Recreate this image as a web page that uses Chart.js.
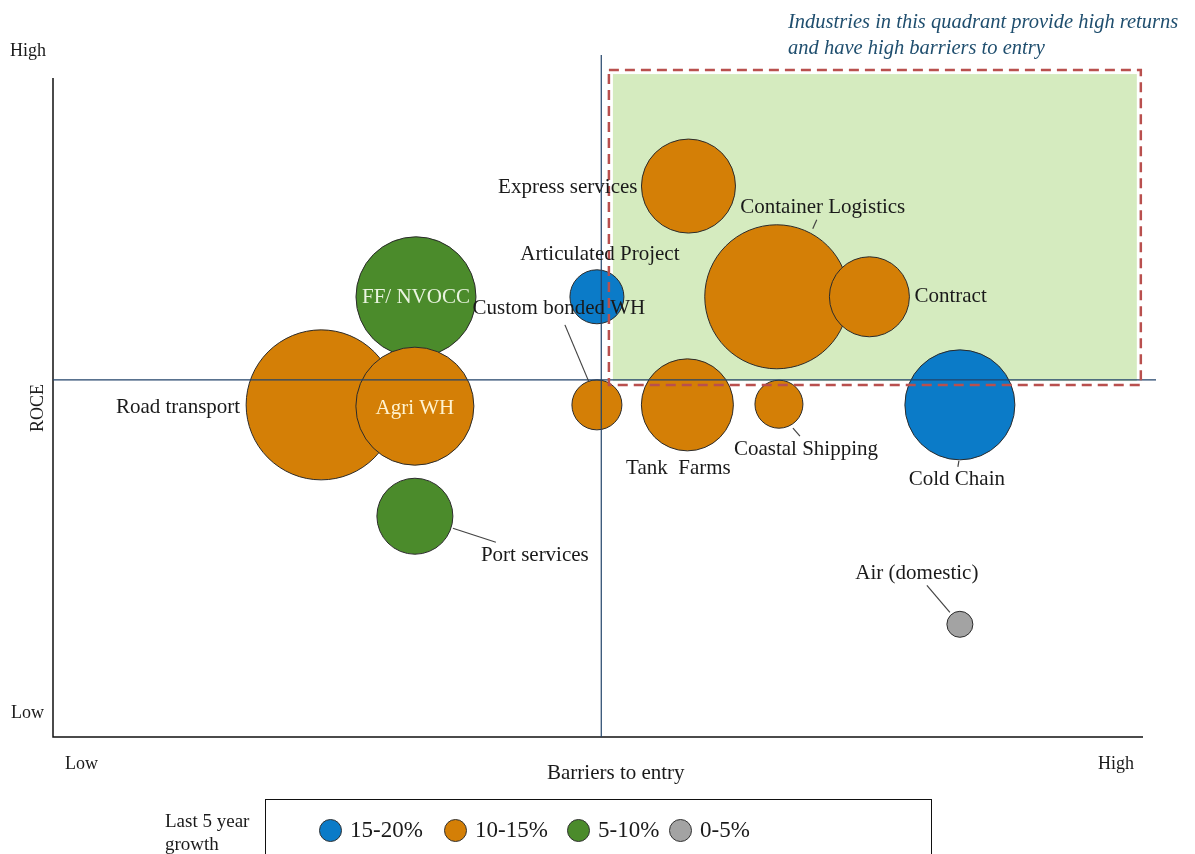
<!DOCTYPE html>
<html><head><meta charset="utf-8">
<script src="https://cdn.jsdelivr.net/npm/chart.js@4.4.0/dist/chart.umd.min.js"></script>
<style>
html,body{margin:0;padding:0;background:#fff;}
#wrap{position:relative;width:1195px;height:854px;overflow:hidden;font-family:'Liberation Serif','Times New Roman',serif;color:#1a1a1a;}
canvas{position:absolute;left:0;top:0;}
.t{position:absolute;white-space:nowrap;line-height:1;}
#legend{position:absolute;left:265px;top:799px;width:667px;height:80px;border:1.5px solid #111;box-sizing:border-box;}
.dot{position:absolute;top:19px;width:23px;height:23px;border-radius:50%;border:1px solid #333;box-sizing:border-box;}
.lt{position:absolute;top:18px;font-size:23px;line-height:24px;white-space:nowrap;}
</style></head><body>
<div id="wrap">
<canvas id="c" width="1195" height="854"></canvas>
<div class="t" style="left:10px;top:41px;font-size:18px">High</div>
<div class="t" style="left:11px;top:703px;font-size:18px">Low</div>
<div class="t" style="left:65px;top:754px;font-size:18px">Low</div>
<div class="t" style="left:1098px;top:754px;font-size:18px">High</div>
<div class="t" style="left:547px;top:762px;font-size:21px">Barriers to entry</div>
<div class="t" style="left:13px;top:408px;font-size:18px;transform:translate(0,-50%) rotate(-90deg);transform-origin:50% 50%;">
  <span style="display:inline-block">ROCE</span></div>
<div class="t" style="left:788px;top:8px;font-size:20.5px;font-style:italic;color:#1f4e6e;line-height:26px;">Industries in this quadrant provide high returns<br>and have high barriers to entry</div>
<div class="t" style="left:165px;top:809px;font-size:19px;line-height:23px;">Last 5 year<br>growth</div>
<div id="legend"></div>
</div>
<script>
// ---- data ----
const industries = ['Road transport','Agri WH','FF/ NVOCC','Port services','Articulated Project','Custom bonded WH','Express services','Container Logistics','Contract','Tank  Farms','Coastal Shipping','Cold Chain','Air (domestic)'];
const barriers   = [24.6, 33.2, 33.3, 33.2, 49.9, 49.9, 58.3, 66.4, 74.9, 58.2, 66.6, 83.2, 83.2];
const roce       = [50.4, 50.2, 66.8, 33.5, 66.8, 50.4, 83.6, 66.8, 66.8, 50.4, 50.5, 50.4, 17.1];
const bubbleSize = [75, 59, 60, 38, 27, 25, 47, 72, 40, 46, 24, 55, 13];
const growth     = ['10-15%','10-15%','5-10%','5-10%','15-20%','10-15%','10-15%','10-15%','10-15%','10-15%','10-15%','15-20%','0-5%'];
const growthBands = ['15-20%','10-15%','5-10%','0-5%'];
const quadrantX = 50.3;
const quadrantY = 54.2;
const highlightX = [51.0, 99.8];
const highlightY = [53.4, 101.2];

// ---- styles ----
const bandColors = {'15-20%':'#0b7bc8','10-15%':'#d47f06','5-10%':'#4b8b2b','0-5%':'#a3a3a3'};
// label placement relative to bubble centre (px): [dx, dy, align, color, leader]
const labelPlace = [
  [-81, 3, 'right', '#1a1a1a', null],
  [0, 2, 'center', '#fff3cf', null],
  [0, 1, 'center', '#eaf4e0', null],
  [66, 39, 'left', '#1a1a1a', [38,12,81,26]],
  [3, -42, 'center', '#1a1a1a', null],
  [-38, -96, 'center', '#1a1a1a', [-32,-80,-8,-23]],
  [-51, 1, 'right', '#1a1a1a', null],
  [46, -89, 'center', '#1a1a1a', [40,-77,36,-68]],
  [45, 0, 'left', '#1a1a1a', null],
  [-9, 64, 'center', '#1a1a1a', null],
  [27, 45, 'center', '#1a1a1a', [14,24,21,32]],
  [-3, 75, 'center', '#1a1a1a', [-1,56,-2,62]],
  [-43, -51, 'center', '#1a1a1a', [-33,-39,-10,-12]]
];

const datasets = growthBands.map(b => ({
  label: b,
  data: industries.map((n,i)=>({x:barriers[i], y:roce[i], r:bubbleSize[i], name:n, idx:i})).filter((p,i)=>growth[i]===b),
  backgroundColor: bandColors[b],
  borderColor: '#2b2b2b',
  borderWidth: 1,
  clip: false
}));

const quadPlugin = {
  id:'quad',
  beforeDatasetsDraw(chart){
    const {ctx, scales:{x,y}} = chart;
    const x0 = x.getPixelForValue(highlightX[0]), x1 = x.getPixelForValue(highlightX[1]);
    const y0 = y.getPixelForValue(highlightY[1]), y1 = y.getPixelForValue(highlightY[0]);
    ctx.save();
    ctx.fillStyle = '#d5ebbf';
    ctx.fillRect(x0+4, y0+4, x1-x0-8, y1-y0-8);
    ctx.restore();
  },
  afterDatasetsDraw(chart){
    const {ctx, chartArea:a, scales:{x,y}} = chart;
    ctx.save();
    // axes
    ctx.strokeStyle = '#111'; ctx.lineWidth = 1.5;
    ctx.beginPath(); ctx.moveTo(a.left, a.top); ctx.lineTo(a.left, a.bottom); ctx.lineTo(a.right, a.bottom); ctx.stroke();
    // quadrant lines
    ctx.strokeStyle = '#22436a'; ctx.lineWidth = 1.2;
    const qx = x.getPixelForValue(quadrantX), qy = y.getPixelForValue(quadrantY);
    ctx.beginPath(); ctx.moveTo(qx, 55); ctx.lineTo(qx, a.bottom); ctx.stroke();
    ctx.beginPath(); ctx.moveTo(a.left, qy); ctx.lineTo(1156, qy); ctx.stroke();
    // dashed highlight border
    const x0 = x.getPixelForValue(highlightX[0]), x1 = x.getPixelForValue(highlightX[1]);
    const y0 = y.getPixelForValue(highlightY[1]), y1 = y.getPixelForValue(highlightY[0]);
    ctx.strokeStyle = '#b9504e'; ctx.lineWidth = 2.5; ctx.setLineDash([10,6]);
    ctx.strokeRect(x0, y0, x1-x0, y1-y0);
    ctx.setLineDash([]);
    // labels
    ctx.font = '21px "Liberation Serif", "Times New Roman", serif';
    ctx.textBaseline = 'middle';
    industries.forEach((n,i)=>{
      const cx = x.getPixelForValue(barriers[i]), cy = y.getPixelForValue(roce[i]);
      const [dx,dy,al,col,ld] = labelPlace[i];
      if (ld){
        ctx.strokeStyle = '#444'; ctx.lineWidth = 1.2;
        ctx.beginPath(); ctx.moveTo(cx+ld[0], cy+ld[1]); ctx.lineTo(cx+ld[2], cy+ld[3]); ctx.stroke();
      }
      ctx.fillStyle = col; ctx.textAlign = al;
      ctx.fillText(n, cx+dx, cy+dy);
    });
    ctx.restore();
  }
};

new Chart(document.getElementById('c'), {
  type:'bubble',
  data:{datasets},
  options:{
    responsive:false, animation:false,
    layout:{autoPadding:false, padding:{left:53, right:52, top:78, bottom:117}},
    scales:{
      x:{type:'linear', min:0, max:100, display:false},
      y:{type:'linear', min:0, max:100, display:false}
    },
    plugins:{legend:{display:false}, tooltip:{enabled:false}}
  },
  plugins:[quadPlugin]
});

// legend from bands
const dotLeft = [53, 178, 301, 403];
const lg = document.getElementById('legend');
growthBands.forEach((b,i)=>{
  const d = document.createElement('span');
  d.className='dot'; d.style.left = dotLeft[i]+'px'; d.style.background = bandColors[b];
  const t = document.createElement('span');
  t.className='lt'; t.style.left = (dotLeft[i]+31)+'px'; t.textContent = b;
  lg.appendChild(d); lg.appendChild(t);
});
</script>
</body></html>
